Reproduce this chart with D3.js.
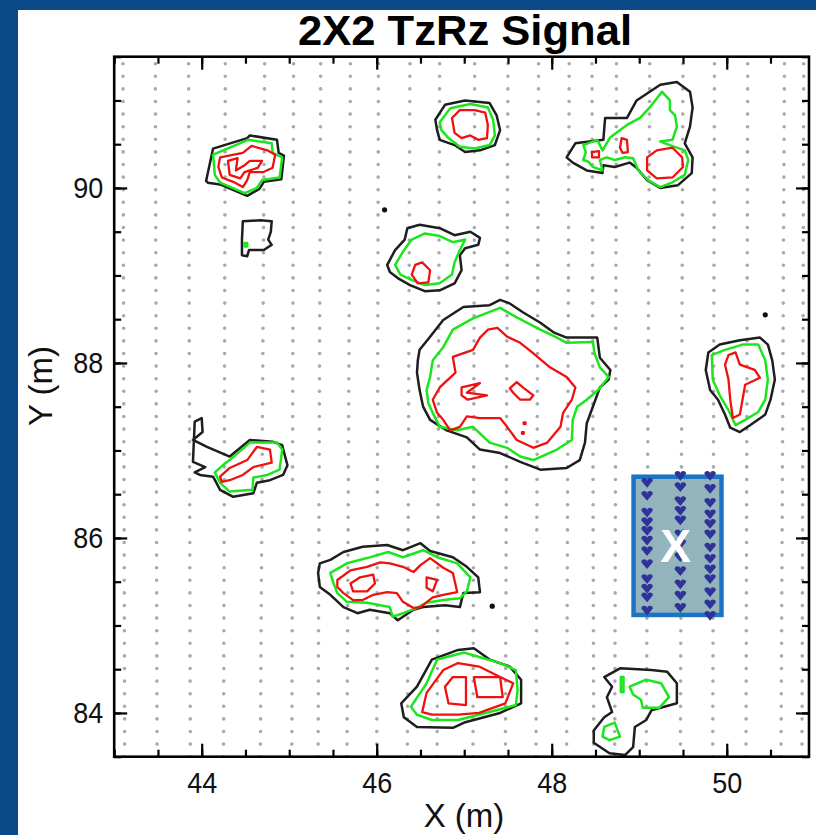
<!DOCTYPE html>
<html>
<head>
<meta charset="utf-8">
<script src="https://cdn.jsdelivr.net/npm/d3@7"></script>
<style>
  body { margin: 0; background: #0b4a89; }
  svg { display: block; }
  text { font-family: "Liberation Sans", Arial, Helvetica, sans-serif; }
</style>
</head>
<body>
<svg id="chart" width="816" height="835"></svg>
<script>
// ---- Survey tracks (x position in metres at the south and north ends) ----
const trackSouthX = [43.12, 43.49, 43.87, 44.25, 44.67, 45.03, 45.33, 45.66, 46.00, 46.35, 46.69, 47.10,
                     47.47, 47.82, 48.17, 48.48, 48.72, 49.08, 49.47, 49.84, 50.22, 50.62, 50.86];
const trackNorthX = [43.10, 43.47, 43.85, 44.27, 44.72, 45.05, 45.36, 45.70, 46.02, 46.38, 46.72, 47.12,
                     47.50, 47.85, 48.20, 48.46, 48.74, 49.12, 49.50, 49.86, 50.24, 50.66, 50.88];
const trackY = [83.5, 91.5];

// ---- Signal contours, one ring per entry: [x (m), y (m)] ----
const contourBlack = [
  [[44.05,90.08],[44.13,90.45],[44.52,90.57],[44.55,90.60],[44.86,90.55],[44.88,90.40],[44.94,90.37],[44.91,90.10],[44.71,90.07],[44.66,89.99],[44.52,89.91],[44.35,89.98],[44.21,90.04],[44.07,90.06]],
  [[44.47,89.62],[44.67,89.63],[44.80,89.62],[44.79,89.50],[44.76,89.41],[44.80,89.35],[44.71,89.29],[44.54,89.29],[44.52,89.22],[44.46,89.23],[44.46,89.41]],
  [[46.67,90.78],[46.78,90.95],[47.01,91.00],[47.29,90.97],[47.37,90.83],[47.41,90.66],[47.35,90.49],[47.18,90.43],[47.01,90.41],[46.89,90.49],[46.72,90.55],[46.69,90.66]],
  [[48.17,90.35],[48.27,90.51],[48.59,90.55],[48.61,90.80],[48.86,90.80],[48.97,91.00],[49.24,91.18],[49.43,91.21],[49.58,91.10],[49.61,90.92],[49.58,90.70],[49.52,90.51],[49.61,90.35],[49.60,90.17],[49.44,90.03],[49.24,90.00],[49.09,90.09],[48.97,90.23],[48.89,90.29],[48.72,90.24],[48.59,90.26],[48.58,90.17],[48.40,90.20],[48.24,90.29]],
  [[46.12,89.12],[46.21,89.29],[46.32,89.41],[46.35,89.54],[46.49,89.58],[46.72,89.54],[46.89,89.46],[47.07,89.50],[47.18,89.43],[47.16,89.35],[47.01,89.31],[46.95,89.23],[46.97,89.06],[46.89,88.91],[46.72,88.83],[46.55,88.82],[46.38,88.89],[46.24,88.97],[46.15,89.04]],
  [[46.47,88.03],[46.49,88.15],[46.61,88.30],[46.76,88.49],[46.99,88.64],[47.29,88.66],[47.41,88.72],[47.52,88.68],[47.67,88.58],[47.87,88.46],[48.02,88.35],[48.17,88.29],[48.52,88.29],[48.55,88.06],[48.67,87.92],[48.65,87.81],[48.55,87.72],[48.47,87.50],[48.40,87.31],[48.38,87.09],[48.32,86.89],[48.17,86.80],[47.87,86.78],[47.64,86.87],[47.41,86.97],[47.18,87.01],[47.03,87.15],[46.80,87.23],[46.61,87.35],[46.53,87.50],[46.49,87.69],[46.46,87.89]],
  [[49.79,88.12],[49.92,88.21],[50.15,88.26],[50.38,88.29],[50.47,88.21],[50.52,88.03],[50.55,87.81],[50.50,87.58],[50.44,87.41],[50.27,87.29],[50.15,87.21],[50.04,87.26],[49.98,87.41],[49.90,87.58],[49.81,87.69],[49.76,87.92]],
  [[43.92,87.33],[44.00,87.37],[44.01,87.21],[43.90,87.12],[44.06,87.04],[44.32,86.93],[44.55,87.12],[44.81,87.10],[44.92,87.06],[44.98,86.83],[44.93,86.72],[44.78,86.66],[44.63,86.63],[44.59,86.51],[44.36,86.47],[44.21,86.55],[44.13,86.70],[43.98,86.72],[43.92,86.75],[44.04,86.81],[43.90,86.87]],
  [[45.35,85.71],[45.47,85.75],[45.62,85.84],[45.84,85.90],[46.12,85.92],[46.30,85.86],[46.50,85.94],[46.61,85.85],[46.87,85.78],[47.03,85.67],[47.16,85.55],[47.18,85.38],[46.99,85.37],[46.95,85.21],[46.78,85.23],[46.53,85.21],[46.42,85.18],[46.24,85.06],[46.15,85.14],[45.92,85.18],[45.78,85.14],[45.62,85.21],[45.47,85.35],[45.35,85.44],[45.33,85.60]],
  [[46.28,84.11],[46.46,84.30],[46.63,84.61],[46.93,84.72],[47.11,84.74],[47.29,84.61],[47.52,84.53],[47.65,84.38],[47.65,84.11],[47.41,84.00],[47.00,83.89],[46.87,83.83],[46.46,83.84],[46.31,83.95]],
  [[48.60,84.41],[48.78,84.51],[49.14,84.49],[49.32,84.47],[49.43,84.34],[49.43,84.11],[49.14,84.03],[49.08,83.92],[48.95,83.84],[48.93,83.61],[48.84,83.52],[48.66,83.54],[48.48,83.66],[48.48,83.80],[48.60,83.95],[48.69,84.01],[48.63,84.18],[48.69,84.30]]
];

const contourGreen = [
  [[44.13,90.38],[44.53,90.55],[44.80,90.51],[44.81,90.40],[44.92,90.35],[44.89,90.12],[44.69,90.09],[44.63,90.00],[44.49,89.94],[44.21,90.06],[44.15,90.15]],
  [[44.49,89.37],[44.52,89.37],[44.52,89.33],[44.49,89.33]],
  [[46.72,90.75],[46.84,90.91],[47.07,90.96],[47.27,90.92],[47.33,90.78],[47.35,90.60],[47.29,90.49],[47.12,90.45],[46.95,90.47],[46.82,90.57],[46.74,90.66]],
  [[48.36,90.49],[48.52,90.55],[48.58,90.43],[48.67,90.58],[48.86,90.72],[49.01,90.80],[49.12,90.92],[49.26,91.10],[49.35,91.00],[49.35,90.89],[49.41,90.83],[49.43,90.70],[49.38,90.55],[49.24,90.53],[49.35,90.49],[49.52,90.43],[49.56,90.32],[49.52,90.15],[49.37,90.06],[49.24,90.01],[49.10,90.09],[48.99,90.20],[48.93,90.34],[48.84,90.35],[48.72,90.32],[48.63,90.35],[48.55,90.32],[48.58,90.20],[48.47,90.24],[48.42,90.30],[48.36,90.32],[48.39,90.41]],
  [[46.21,89.12],[46.30,89.27],[46.40,89.41],[46.55,89.48],[46.72,89.45],[46.87,89.38],[47.01,89.41],[46.95,89.29],[46.89,89.15],[46.86,89.01],[46.72,88.91],[46.55,88.89],[46.40,88.95],[46.27,89.01]],
  [[46.57,87.69],[46.61,87.84],[46.64,88.03],[46.76,88.18],[46.87,88.38],[47.10,88.51],[47.41,88.63],[47.60,88.52],[47.87,88.38],[48.06,88.29],[48.17,88.23],[48.47,88.24],[48.49,88.11],[48.55,87.95],[48.65,87.84],[48.53,87.69],[48.40,87.58],[48.29,87.50],[48.24,87.35],[48.23,87.12],[48.06,87.01],[47.79,86.89],[47.64,86.93],[47.49,87.03],[47.29,87.09],[47.10,87.27],[46.92,87.23],[46.72,87.27],[46.64,87.43],[46.59,87.54]],
  [[49.83,88.09],[49.98,88.15],[50.18,88.21],[50.36,88.21],[50.44,88.03],[50.47,87.81],[50.44,87.58],[50.36,87.44],[50.21,87.35],[50.10,87.29],[50.02,87.46],[49.92,87.63],[49.84,87.81]],
  [[44.32,86.89],[44.55,87.09],[44.86,87.09],[44.92,87.01],[44.89,86.78],[44.75,86.72],[44.59,86.69],[44.58,86.55],[44.32,86.53],[44.21,86.63],[44.15,86.75],[44.24,86.83]],
  [[45.47,85.60],[45.66,85.71],[45.89,85.77],[46.13,85.84],[46.30,85.78],[46.53,85.86],[46.69,85.78],[46.92,85.71],[47.07,85.55],[47.03,85.39],[46.95,85.31],[46.76,85.29],[46.57,85.26],[46.46,85.20],[46.30,85.14],[46.18,85.10],[46.15,85.21],[45.89,85.26],[45.66,85.27],[45.55,85.37],[45.50,85.50]],
  [[46.39,84.07],[46.57,84.34],[46.69,84.61],[47.00,84.69],[47.17,84.64],[47.41,84.57],[47.59,84.49],[47.61,84.26],[47.59,84.09],[47.29,84.01],[46.93,83.92],[46.63,83.92],[46.46,83.98]],
  [[48.89,84.30],[49.08,84.38],[49.25,84.34],[49.34,84.18],[49.23,84.06],[49.04,84.06],[49.02,84.15],[48.93,84.21]],
  [[48.79,84.41],[48.82,84.41],[48.82,84.24],[48.79,84.24]],
  [[48.60,83.84],[48.72,83.89],[48.78,83.73],[48.66,83.69],[48.58,83.73]]
];

const contourRed = [
  [[44.21,90.35],[44.47,90.40],[44.57,90.48],[44.75,90.43],[44.84,90.38],[44.81,90.23],[44.70,90.18],[44.55,90.18],[44.52,90.09],[44.47,90.01],[44.36,90.07],[44.23,90.12],[44.19,90.24]],
  [[44.30,90.31],[44.41,90.34],[44.39,90.20],[44.49,90.26],[44.55,90.31],[44.69,90.31],[44.64,90.23],[44.49,90.18],[44.44,90.11],[44.32,90.15]],
  [[46.86,90.80],[46.95,90.89],[47.12,90.89],[47.24,90.86],[47.27,90.72],[47.26,90.57],[47.16,90.55],[47.07,90.60],[46.97,90.57],[46.89,90.63]],
  [[49.09,90.35],[49.20,90.43],[49.38,90.46],[49.49,90.35],[49.50,90.24],[49.38,90.12],[49.20,90.11],[49.09,90.20]],
  [[48.80,90.57],[48.86,90.55],[48.87,90.41],[48.81,90.40],[48.78,90.46]],
  [[48.46,90.41],[48.54,90.42],[48.54,90.35],[48.46,90.35]],
  [[46.40,89.01],[46.44,89.12],[46.52,89.15],[46.61,89.06],[46.59,88.92],[46.47,88.91]],
  [[46.72,87.72],[46.90,87.89],[46.87,88.07],[47.10,88.15],[47.18,88.29],[47.27,88.38],[47.38,88.40],[47.49,88.30],[47.64,88.23],[47.79,88.11],[47.98,87.95],[48.17,87.84],[48.27,87.72],[48.23,87.58],[48.13,87.43],[48.10,87.27],[47.95,87.09],[47.79,87.03],[47.60,87.12],[47.49,87.27],[47.41,87.37],[47.18,87.37],[47.03,87.39],[46.95,87.27],[46.84,87.23],[46.76,87.35],[46.69,87.43],[46.64,87.58]],
  [[47.52,87.71],[47.60,87.78],[47.67,87.72],[47.79,87.63],[47.75,87.58],[47.64,87.58],[47.56,87.66]],
  [[46.97,87.72],[47.18,87.77],[47.03,87.66],[47.26,87.63],[47.04,87.58],[46.97,87.63]],
  [[47.68,87.32],[47.70,87.32],[47.70,87.30],[47.68,87.30]],
  [[47.66,87.21],[47.68,87.21],[47.68,87.19],[47.66,87.19]],
  [[50.02,88.09],[50.10,88.12],[50.15,87.98],[50.32,87.92],[50.38,87.83],[50.21,87.75],[50.18,87.58],[50.15,87.41],[50.07,87.37],[50.04,87.58],[50.02,87.81],[49.98,87.98]],
  [[44.21,86.70],[44.32,86.80],[44.52,86.89],[44.63,87.04],[44.78,87.01],[44.80,86.86],[44.59,86.81],[44.47,86.72],[44.32,86.66],[44.23,86.64]],
  [[45.55,85.52],[45.70,85.63],[45.89,85.67],[46.04,85.72],[46.15,85.71],[46.30,85.67],[46.42,85.61],[46.50,85.69],[46.61,85.77],[46.76,85.66],[46.87,85.60],[46.92,85.38],[46.76,85.35],[46.64,85.32],[46.50,85.21],[46.42,85.20],[46.30,85.27],[46.23,85.37],[46.12,85.38],[45.96,85.35],[45.84,85.29],[45.73,85.29],[45.62,85.37],[45.55,85.44]],
  [[45.70,85.48],[45.81,85.55],[45.96,85.58],[45.98,85.48],[45.89,85.39],[45.73,85.39]],
  [[46.57,85.55],[46.69,85.52],[46.64,85.39],[46.57,85.43]],
  [[46.52,84.01],[46.57,84.23],[46.76,84.49],[46.93,84.57],[47.17,84.53],[47.41,84.41],[47.56,84.34],[47.47,84.11],[47.17,84.00],[46.93,83.98],[46.63,83.98]],
  [[46.87,84.41],[47.02,84.41],[47.02,84.09],[46.82,84.11],[46.78,84.30]],
  [[47.11,84.41],[47.41,84.41],[47.44,84.18],[47.15,84.18]]
];

// Isolated single-sample highs
const spotX = [46.09, 50.44, 47.32];
const spotY = [89.75, 88.55, 85.22];

// ---- Marked target area and the samples inside it ----
const targetX = [48.935, 49.94];
const targetY = [85.12, 86.70];
const targetLabel = "X";
const targetColX = [49.09, 49.47, 49.81];
const targetColY = [
  [86.64, 86.49, 86.30, 86.19, 86.09, 85.98, 85.86, 85.71, 85.54, 85.43, 85.33, 85.18],
  [86.72, 86.59, 86.43, 86.32, 86.21, 86.05, 85.94, 85.79, 85.63, 85.48, 85.35, 85.21],
  [86.72, 86.57, 86.41, 86.28, 86.17, 86.05, 85.90, 85.77, 85.65, 85.54, 85.39, 85.25, 85.12]
];

// ---- Axes ----
const xDomain = [43, 50.94];
const yDomain = [83.5, 91.5];
const xMajor = [44, 46, 48, 50];
const yMajor = [84, 86, 88, 90];
const minorStep = 0.5;
const titleText = "2X2 TzRz Signal";
const xLabel = "X (m)";
const yLabel = "Y (m)";

// ------------------------------------------------------------------
const svg = d3.select("#chart");
const W = 816, H = 835;
const plot = { left: 114.2, right: 809, top: 56.7, bottom: 756.7 };

const x = d3.scaleLinear().domain(xDomain).range([plot.left, plot.right]);
const y = d3.scaleLinear().domain(yDomain).range([plot.bottom, plot.top]);

svg.append("rect").attr("width", W).attr("height", H).attr("fill", "#0b4a89");
svg.append("rect").attr("x", 18).attr("y", 10).attr("width", W - 18).attr("height", H - 10).attr("fill", "#ffffff");

svg.append("defs").append("clipPath").attr("id", "plotClip")
  .append("rect").attr("x", plot.left).attr("y", plot.top)
  .attr("width", plot.right - plot.left).attr("height", plot.bottom - plot.top);

const g = svg.append("g").attr("clip-path", "url(#plotClip)");

// survey tracks as dotted lines
const trackLine = d3.line().x(d => x(d[0])).y(d => y(d[1]));
g.append("g").selectAll("path")
  .data(trackSouthX.map((x0, i) => [[x0, trackY[0]], [trackNorthX[i], trackY[1]]]))
  .join("path")
  .attr("d", trackLine)
  .attr("fill", "none")
  .attr("stroke", "#a9a9a9")
  .attr("stroke-width", 3.6)
  .attr("stroke-linecap", "round")
  .attr("stroke-dasharray", "0 12.6");

// contour rings
const ring = d3.line().x(d => x(d[0])).y(d => y(d[1])).curve(d3.curveLinearClosed);
function drawRings(rings, colour, width) {
  g.append("g").selectAll("path").data(rings).join("path")
    .attr("d", ring)
    .attr("fill", "none")
    .attr("stroke", colour)
    .attr("stroke-width", width)
    .attr("stroke-linejoin", "round");
}
drawRings(contourBlack, "#1e1e1e", 2.5);
drawRings(contourGreen, "#1be61b", 2.5);
drawRings(contourRed, "#f01010", 2.3);

g.append("g").selectAll("circle").data(spotX).join("circle")
  .attr("cx", d => x(d)).attr("cy", (d, i) => y(spotY[i])).attr("r", 2.6).attr("fill", "#111");

// target box
const bx0 = x(targetX[0]), bx1 = x(targetX[1]), by0 = y(targetY[1]), by1 = y(targetY[0]);
g.append("rect")
  .attr("x", bx0).attr("y", by0).attr("width", bx1 - bx0).attr("height", by1 - by0)
  .attr("fill", "#93b4bd").attr("stroke", "#1a73c6").attr("stroke-width", 4.5);

const heart = {
  draw(ctx, size) {
    const s = Math.sqrt(size) / 2;
    ctx.moveTo(0, s);
    ctx.lineTo(-s, -0.15 * s);
    ctx.arc(-s / 2, -0.2 * s, s / 2, Math.PI, 0);
    ctx.arc(s / 2, -0.2 * s, s / 2, Math.PI, 0);
    ctx.closePath();
  }
};
const heartPath = d3.symbol().type(heart).size(130)();
const targetPts = targetColX.flatMap((cx, i) => targetColY[i].map(cy => [cx, cy]));
g.append("g").selectAll("path").data(targetPts).join("path")
  .attr("d", heartPath)
  .attr("transform", d => `translate(${x(d[0])},${y(d[1])})`)
  .attr("fill", "#2f3398");

g.append("text")
  .attr("x", (bx0 + bx1) / 2 - 2).attr("y", (by0 + by1) / 2 + 16)
  .attr("text-anchor", "middle")
  .attr("font-size", 46).attr("font-weight", "bold").attr("fill", "#ffffff")
  .text(targetLabel);

// frame and ticks (all pointing inward)
const minorX = d3.range(43, 51.001, minorStep).filter(v => v >= xDomain[0] && v <= xDomain[1]);
const minorY = d3.range(83.5, 91.501, minorStep);
const axisStyle = sel => {
  sel.select(".domain").remove();
  sel.selectAll(".tick line").attr("stroke", "#000").attr("stroke-width", 2.2);
};
const labelStyle = sel => sel.selectAll("text")
  .attr("font-size", 30).attr("fill", "#111")
  .attr("font-family", "'Liberation Sans', Arial, sans-serif")
  .attr("textLength", 30).attr("lengthAdjust", "spacingAndGlyphs");

// bottom
svg.append("g").attr("transform", `translate(0,${plot.bottom})`)
  .call(d3.axisBottom(x).tickValues(minorX).tickSize(-7).tickFormat(""))
  .call(axisStyle);
svg.append("g").attr("transform", `translate(0,${plot.bottom})`)
  .call(d3.axisBottom(x).tickValues(xMajor).tickSize(-13).tickPadding(15).tickFormat(d3.format("d")))
  .call(axisStyle)
  .call(labelStyle);
// top
svg.append("g").attr("transform", `translate(0,${plot.top})`)
  .call(d3.axisTop(x).tickValues(minorX).tickSize(-7).tickFormat(""))
  .call(axisStyle);
svg.append("g").attr("transform", `translate(0,${plot.top})`)
  .call(d3.axisTop(x).tickValues(xMajor).tickSize(-13).tickFormat(""))
  .call(axisStyle);
// left
svg.append("g").attr("transform", `translate(${plot.left},0)`)
  .call(d3.axisLeft(y).tickValues(minorY).tickSize(-7).tickFormat(""))
  .call(axisStyle);
svg.append("g").attr("transform", `translate(${plot.left},0)`)
  .call(d3.axisLeft(y).tickValues(yMajor).tickSize(-13).tickPadding(11).tickFormat(d3.format("d")))
  .call(axisStyle)
  .call(labelStyle);
// right
svg.append("g").attr("transform", `translate(${plot.right},0)`)
  .call(d3.axisRight(y).tickValues(minorY).tickSize(-7).tickFormat(""))
  .call(axisStyle);
svg.append("g").attr("transform", `translate(${plot.right},0)`)
  .call(d3.axisRight(y).tickValues(yMajor).tickSize(-13).tickFormat(""))
  .call(axisStyle);

svg.append("rect")
  .attr("x", plot.left).attr("y", plot.top)
  .attr("width", plot.right - plot.left).attr("height", plot.bottom - plot.top)
  .attr("fill", "none").attr("stroke", "#000").attr("stroke-width", 2.6);

// titles
svg.append("text").attr("x", 465).attr("y", 45).attr("text-anchor", "middle")
  .attr("font-size", 42).attr("font-weight", "bold").attr("fill", "#000")
  .attr("textLength", 334).attr("lengthAdjust", "spacingAndGlyphs").text(titleText);
svg.append("text").attr("x", 464).attr("y", 827).attr("text-anchor", "middle")
  .attr("font-size", 33).attr("fill", "#111").text(xLabel);
svg.append("text").attr("transform", "translate(52,386) rotate(-90)").attr("text-anchor", "middle")
  .attr("font-size", 33).attr("fill", "#111").text(yLabel);
</script>
</body>
</html>
